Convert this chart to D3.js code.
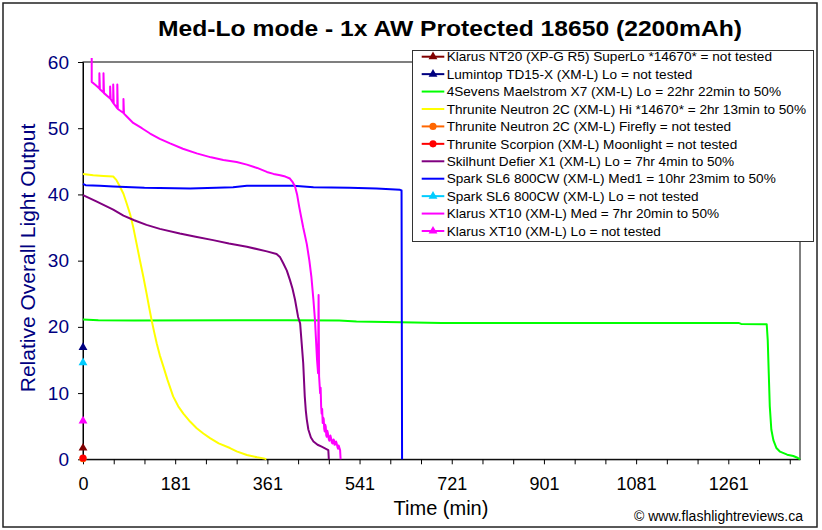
<!DOCTYPE html>
<html>
<head>
<meta charset="utf-8">
<script src="https://cdn.jsdelivr.net/npm/d3@7"></script>
<style>
  html, body { margin: 0; padding: 0; background: #ffffff; }
  svg { display: block; font-family: Arial, "Liberation Sans", sans-serif; }
</style>
</head>
<body>
<svg id="chart" width="822" height="530"></svg>
<script>
// ---------------- DATA ----------------
const chartTitle = "Med-Lo mode - 1x AW Protected 18650 (2200mAh)";
const yAxisTitle = "Relative Overall Light Output";
const xAxisTitle = "Time (min)";
const credit = "\u00A9 www.flashlightreviews.ca";

const yTickValues = [0, 10, 20, 30, 40, 50, 60];
const xMinorTickStep = 60;           // minutes between tick marks
const xTickLabels = ["0", "181", "361", "541", "721", "901", "1081", "1261"];

const seriesNames = [
  "Klarus NT20 (XP-G R5) SuperLo *14670* = not tested",
  "Lumintop TD15-X (XM-L) Lo = not tested",
  "4Sevens Maelstrom X7 (XM-L) Lo = 22hr 22min to 50%",
  "Thrunite Neutron 2C (XM-L) Hi *14670* = 2hr 13min to 50%",
  "Thrunite Neutron 2C (XM-L) Firefly = not tested",
  "Thrunite Scorpion (XM-L) Moonlight = not tested",
  "Skilhunt Defier X1 (XM-L) Lo = 7hr 4min to 50%",
  "Spark SL6 800CW (XM-L) Med1 = 10hr 23mim to 50%",
  "Spark SL6 800CW (XM-L) Lo = not tested",
  "Klarus XT10 (XM-L) Med = 7hr 20min to 50%",
  "Klarus XT10 (XM-L) Lo = not tested"
];

// [minutes, relative output]
const klarusNT20 = [[0, 1.7]];
const lumintopTD15X = [[0, 16.9]];
const maelstromX7 = [[0,21.1],[30,21.0],[100,20.95],[300,21.0],[400,21.0],[500,20.95],[534,20.8],[620,20.7],[700,20.6],[1000,20.6],[1280,20.6],[1285,20.45],[1335,20.4],[1337,18],[1339,13],[1341,8],[1344,4.5],[1348,2.9],[1354,1.7],[1361,1.15],[1375,0.7],[1387,0.5],[1396,0.2],[1400,0]];
const neutronHi = [[0,43.1],[20,42.9],[40,42.8],[59,42.7],[65,42.2],[72,41.2],[79,40.1],[85,38.7],[92,37.0],[98,35.1],[104,32.8],[111,30.1],[118,27.5],[124,25.1],[129,23.0],[134,21.0],[139,19.2],[144,17.5],[150,15.7],[157,14.0],[165,12.0],[176,9.5],[186,8.0],[196,6.9],[209,5.7],[222,4.7],[235,3.9],[248,3.2],[265,2.4],[287,1.7],[300,1.2],[320,0.65],[340,0.3],[355,0.1],[358,0]];
const neutronFirefly = [[0, 0.1]];
const scorpionMoon = [[0, 0.2]];
const defierX1 = [[0,39.9],[27,38.9],[59,37.7],[79,36.8],[100,36.1],[124,35.4],[150,34.8],[189,34.1],[220,33.6],[254,33.1],[285,32.6],[320,32.1],[359,31.4],[378,31.0],[385,30.5],[391,29.6],[398,28.5],[404,27.1],[409,25.8],[414,24.1],[420,21.5],[424,20.5],[427,17.5],[430,14.5],[433,9.5],[435,7.4],[437,6],[440,4.5],[445,3.3],[450,2.7],[458,2.2],[466,1.9],[479,1.4],[480,0]];
const sparkMed1 = [[0,41.6],[5,41.4],[33,41.3],[59,41.2],[120,41.0],[209,40.9],[260,41.0],[293,41.1],[320,41.3],[411,41.3],[450,41.1],[520,41.0],[573,40.9],[619,40.7],[622,40.6],[623,0]];
const sparkLo = [[0, 14.6]];
const xt10Med = [[17,60.6],[17,57.0],[25,56.5],[32,56.0],[32,58.3],[33,55.9],[40,55.4],[40,58.3],[41,55.3],[53,54.5],[53,56.3],[54,54.4],[59,53.8],[59,56.6],[60,53.7],[67,53.0],[67,56.6],[68,52.9],[79,52.3],[79,54.4],[80,52.2],[85,51.8],[98,50.8],[115,50.0],[131,49.2],[150,48.4],[170,47.7],[195,46.9],[222,46.2],[250,45.6],[274,45.2],[300,44.9],[320,44.5],[340,44.0],[359,43.4],[372,43.1],[385,42.9],[395,42.7],[404,42.4],[409,41.9],[414,41.2],[418,40.0],[422,38.2],[426,36.6],[430,35],[437,32.5],[442,30.0],[446,27.5],[450,24.0],[453,21],[455,18],[457,15],[459,13],[460,24.8],[461,12.5],[463,10],[464,10.8],[465,8.0],[466,6.9],[467,7.6],[468,5.5],[469,6.3],[470,6.1],[471,4.6],[472,4.2],[473,5.2],[474,4.9],[475,3.6],[476,3.4],[477,4.3],[478,4.0],[480,3.0],[481,2.8],[483,3.6],[484,3.3],[486,2.5],[487,2.4],[489,3.0],[490,2.9],[491,2.2],[492,2.2],[494,2.7],[495,2.5],[497,1.8],[498,1.6],[499,2.1],[500,1.9],[502,1.4],[503,0]];
const xt10Lo = [[0, 5.8]];

const seriesData = [klarusNT20, lumintopTD15X, maelstromX7, neutronHi, neutronFirefly, scorpionMoon, defierX1, sparkMed1, sparkLo, xt10Med, xt10Lo];
const seriesColors = ["#800000", "#000080", "#00FF00", "#FFFF00", "#FF6600", "#FF0000", "#800080", "#0000FF", "#00CCFF", "#FF00FF", "#FF00FF"];
const seriesMarkers = ["triangle", "triangle", null, null, "circle", "circle", null, null, "triangle", null, "triangle"];

// ---------------- LAYOUT ----------------
const svg = d3.select("#chart");
const W = 822, H = 530;
const plot = { left: 83, top: 62, right: 800, bottom: 459.3 };

svg.append("rect").attr("x", 0).attr("y", 0).attr("width", W).attr("height", H).attr("fill", "#ffffff");
svg.append("rect").attr("x", 3).attr("y", 3).attr("width", 814).attr("height", 524)
  .attr("fill", "none").attr("stroke", "#222").attr("stroke-width", 1.5);

const x = d3.scaleLinear().domain([0, 1400]).range([plot.left, plot.right]);
const y = d3.scaleLinear().domain([0, 60]).range([plot.bottom, plot.top]);

// plot frame
svg.append("rect")
  .attr("x", plot.left).attr("y", plot.top)
  .attr("width", plot.right - plot.left).attr("height", plot.bottom - plot.top)
  .attr("fill", "#ffffff").attr("stroke", "#000").attr("stroke-width", 1);

// title
svg.append("text")
  .attr("x", 450).attr("y", 36)
  .attr("text-anchor", "middle")
  .attr("font-size", 22).attr("font-weight", "bold")
  .attr("textLength", 584).attr("lengthAdjust", "spacingAndGlyphs")
  .text(chartTitle);

// x axis
const xTickVals = d3.range(0, 1381, xMinorTickStep);
const xAxis = d3.axisBottom(x)
  .tickValues(xTickVals)
  .tickSize(5).tickSizeOuter(0).tickPadding(13)
  .tickFormat((d, i) => (i % 3 === 0 ? xTickLabels[i / 3] : ""));
const gx = svg.append("g").attr("transform", `translate(0,${plot.bottom})`).call(xAxis);
gx.selectAll("text").attr("font-size", 18).attr("fill", "#000").attr("font-family", "Arial, 'Liberation Sans', sans-serif");
gx.selectAll("line").attr("stroke", "#000");
gx.select(".domain").attr("stroke", "#000");

// y axis
const yAxis = d3.axisLeft(y)
  .tickValues(yTickValues)
  .tickSize(5).tickSizeOuter(0).tickPadding(9);
const gy = svg.append("g").attr("transform", `translate(${plot.left},0)`).call(yAxis);
gy.selectAll("text").attr("font-size", 19).attr("fill", "#000080").attr("font-family", "Arial, 'Liberation Sans', sans-serif");
gy.selectAll("line").attr("stroke", "#000");
gy.select(".domain").attr("stroke", "#000");

// axis titles
svg.append("text")
  .attr("transform", "translate(35,258) rotate(-90)")
  .attr("text-anchor", "middle")
  .attr("font-size", 21).attr("fill", "#000080")
  .text(yAxisTitle);
svg.append("text")
  .attr("x", 441).attr("y", 515)
  .attr("text-anchor", "middle")
  .attr("font-size", 20).attr("fill", "#000")
  .text(xAxisTitle);
svg.append("text")
  .attr("x", 803).attr("y", 521)
  .attr("text-anchor", "end")
  .attr("font-size", 14).attr("fill", "#000")
  .text(credit);

// series
const line = d3.line().x(d => x(d[0])).y(d => y(d[1]));
const gSeries = svg.append("g");
const triSym = d3.symbol().type(d3.symbolTriangle).size(34);
const cirSym = d3.symbol().type(d3.symbolCircle).size(40);

seriesData.forEach((data, i) => {
  if (data.length > 1) {
    gSeries.append("path")
      .datum(data)
      .attr("d", line)
      .attr("fill", "none")
      .attr("stroke", seriesColors[i])
      .attr("stroke-width", 2)
      .attr("stroke-linejoin", "round");
  }
  if (seriesMarkers[i]) {
    gSeries.selectAll(null).data(data).enter().append("path")
      .attr("transform", d => `translate(${x(d[0])},${y(d[1])})`)
      .attr("d", seriesMarkers[i] === "triangle" ? triSym : cirSym)
      .attr("fill", seriesColors[i]);
  }
});

// legend
const leg = { x: 412.5, y: 50.5, w: 401, h: 191 };
const gl = svg.append("g");
gl.append("rect").attr("x", leg.x).attr("y", leg.y).attr("width", leg.w).attr("height", leg.h)
  .attr("fill", "#fff").attr("stroke", "#333").attr("stroke-width", 1);
const rowH = 17.43, row0 = 56.7;
seriesNames.forEach((name, i) => {
  const cy = row0 + rowH * i;
  gl.append("line").attr("x1", 421.7).attr("x2", 444.3).attr("y1", cy).attr("y2", cy)
    .attr("stroke", seriesColors[i]).attr("stroke-width", 2);
  if (seriesMarkers[i]) {
    gl.append("path").attr("transform", `translate(433,${cy})`)
      .attr("d", seriesMarkers[i] === "triangle" ? triSym : cirSym)
      .attr("fill", seriesColors[i]);
  }
  gl.append("text").attr("x", 446.7).attr("y", cy).attr("dy", "0.35em")
    .attr("font-size", 13.6).attr("fill", "#000").text(name);
});
</script>
</body>
</html>
